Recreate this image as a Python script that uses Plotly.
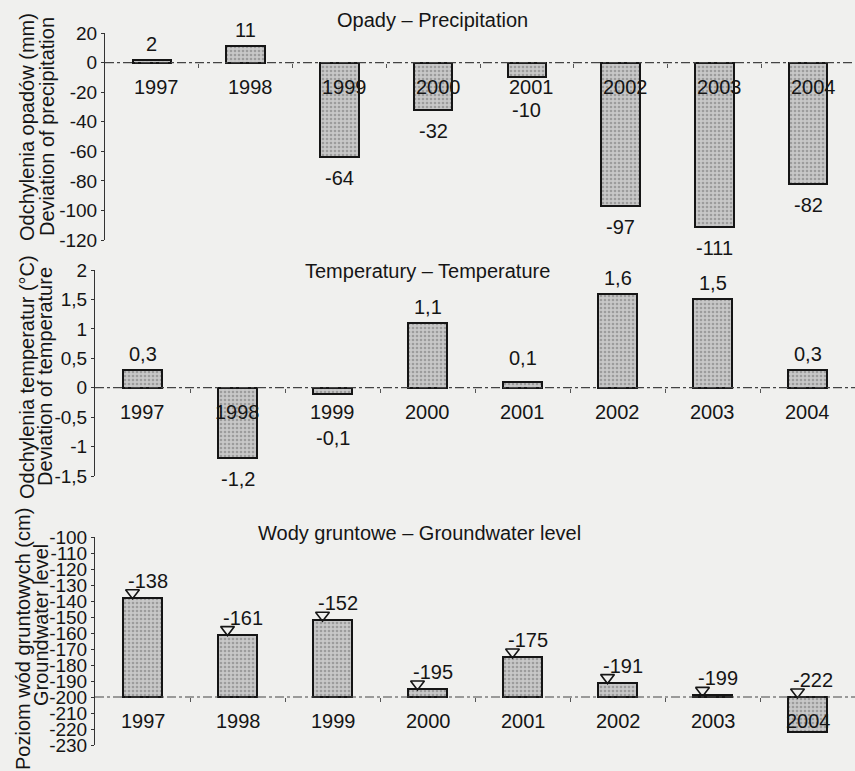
import plotly.graph_objects as go

W, H = 855, 771

years = ["1997", "1998", "1999", "2000", "2001", "2002", "2003", "2004"]

precip_dev = [2, 11, -64, -32, -10, -97, -111, -82]
precip_labels = ["2", "11", "-64", "-32", "-10", "-97", "-111", "-82"]
precip_ticks = [20, 0, -20, -40, -60, -80, -100, -120]
precip_ticktext = ["20", "0", "-20", "-40", "-60", "-80", "-100", "-120"]

temp_dev = [0.3, -1.2, -0.1, 1.1, 0.1, 1.6, 1.5, 0.3]
temp_labels = ["0,3", "-1,2", "-0,1", "1,1", "0,1", "1,6", "1,5", "0,3"]
temp_ticks = [2, 1.5, 1, 0.5, 0, -0.5, -1, -1.5]
temp_ticktext = ["2", "1,5", "1", "0,5", "0", "-0,5", "-1", "-1,5"]

gw_level = [-138, -161, -152, -195, -175, -191, -199, -222]
gw_labels = ["-138", "-161", "-152", "-195", "-175", "-191", "-199", "-222"]
gw_base = -200
gw_ticks = [-100, -110, -120, -130, -140, -150, -160, -170, -180, -190,
            -200, -210, -220, -230]
gw_ticktext = ["-100", "-110", "-120", "-130", "-140", "-150", "-160", "-170",
               "-180", "-190", "-200", "-210", "-220", "-230"]

FONT = "Liberation Sans, Arial, sans-serif"
INK = "#151515"
BG = "#f0f0ee"

panels = [
    dict(k="", values=precip_dev, labels=precip_labels, base=0,
         xdom=[105 / W, 1.0], ydom=[1 - 240 / H, 1 - 33 / H], yrange=[-120, 20],
         tickvals=precip_ticks, ticktext=precip_ticktext,
         title="Opady – Precipitation", title_xy=(432, 20),
         yt1="Odchylenia opadów (mm)", yt2="Deviation of precipitation",
         yt_pos=((27, 127), (47, 127)), year_dx=5, min_pos=0, min_neg=47,
         gw=False),
    dict(k="2", values=temp_dev, labels=temp_labels, base=0,
         xdom=[95 / W, 1.0], ydom=[1 - 476 / H, 1 - 270 / H], yrange=[-1.5, 2],
         tickvals=temp_ticks, ticktext=temp_ticktext,
         title="Temperatury – Temperature", title_xy=(427, 271),
         yt1="Odchylenia temperatur (°C)", yt2="Deviation of temperature",
         yt_pos=((27, 377), (45, 377)), year_dx=0, min_pos=30, min_neg=50,
         gw=False),
    dict(k="3", values=gw_level, labels=gw_labels, base=gw_base,
         xdom=[95 / W, 1.0], ydom=[1 - 745 / H, 1 - 537 / H], yrange=[-230, -100],
         tickvals=gw_ticks, ticktext=gw_ticktext,
         title="Wody gruntowe – Groundwater level", title_xy=(419, 533),
         yt1="Poziom wód gruntowych (cm)", yt2="Groundwater level",
         yt_pos=((23, 639), (41, 625)), year_dx=1, min_pos=0, min_neg=0,
         gw=True),
]

fig = go.Figure()
annotations = []
shapes = []
layout = {}

for p in panels:
    k = p["k"]
    xa, ya = "x" + k, "y" + k
    base = p["base"]
    idx = list(range(len(years)))
    d0, d1 = p["ydom"]
    r0, r1 = p["yrange"]
    ppu = (d1 - d0) * H / (r1 - r0)          # pixels per data unit
    ppc = (p["xdom"][1] - p["xdom"][0]) * W / len(years)  # pixels per category

    fig.add_trace(go.Bar(
        x=idx, y=[v - base for v in p["values"]], base=base, width=0.41,
        xaxis=xa, yaxis=ya, showlegend=False, hoverinfo="skip",
        marker=dict(color="#c2c2c2", line=dict(color=INK, width=2),
                    pattern=dict(shape=".", fgcolor="#707070", bgcolor="#c8c8c8",
                                 size=4, solidity=0.35)),
    ))

    # baseline (dash-dot)
    shapes.append(dict(type="line", xref=xa + " domain", yref=ya,
                       x0=0, x1=1, y0=base, y1=base,
                       line=dict(color="#444", width=1.2, dash="dashdot")))

    # year labels
    for i, yr in enumerate(years):
        annotations.append(dict(x=i, y=base, xref=xa, yref=ya, text=yr,
                                showarrow=False, yshift=-24, xshift=p["year_dx"],
                                font=dict(family=FONT, size=20, color=INK)))

    # value labels
    for i, (v, lab) in enumerate(zip(p["values"], p["labels"])):
        if p["gw"]:
            top = max(v, base)
            shift = (top - base) * ppu + 17
            xs = 5
        elif v >= base:
            shift = max((v - base) * ppu + 16, p["min_pos"])
            xs = 0
        else:
            shift = -max((base - v) * ppu + 21, p["min_neg"])
            xs = 0
        annotations.append(dict(x=i, y=base, xref=xa, yref=ya, text=lab,
                                showarrow=False, yshift=shift, xshift=xs,
                                font=dict(family=FONT, size=20, color=INK)))

    if p["gw"]:
        tops = [max(v, base) for v in p["values"]]
        fig.add_trace(go.Scatter(
            x=[i - 10 / ppc for i in idx], y=[t + 5 / ppu for t in tops],
            xaxis=xa, yaxis=ya, mode="markers", showlegend=False, hoverinfo="skip",
            marker=dict(symbol="triangle-down-open", size=12,
                        color=INK, line=dict(color=INK, width=1.6)),
        ))

    # titles
    tx, ty = p["title_xy"]
    annotations.append(dict(x=tx / W, y=1 - ty / H, xref="paper", yref="paper",
                            text=p["title"], showarrow=False, xanchor="center",
                            yanchor="middle",
                            font=dict(family=FONT, size=20, color=INK)))
    for txt, (ax, ay) in zip((p["yt1"], p["yt2"]), p["yt_pos"]):
        annotations.append(dict(x=ax / W, y=1 - ay / H, xref="paper", yref="paper",
                                text=txt, showarrow=False, textangle=-90,
                                xanchor="center", yanchor="middle",
                                font=dict(family=FONT, size=20, color=INK)))

    pos = d0 + (base - r0) / (r1 - r0) * (d1 - d0)
    layout["xaxis" + k] = dict(domain=p["xdom"], range=[-0.5, len(years) - 0.5],
                               anchor="free", position=pos, showgrid=False,
                               zeroline=False, showline=False, automargin=False,
                               tickvals=[i + 0.5 for i in idx[:-1]],
                               ticks="outside", ticklen=4, tickcolor="#555",
                               tickwidth=1, showticklabels=False, fixedrange=True)
    layout["yaxis" + k] = dict(domain=p["ydom"], range=p["yrange"], anchor=xa,
                               tickvals=p["tickvals"], ticktext=p["ticktext"],
                               ticks="outside", ticklen=3, tickcolor="#333",
                               showline=True, linecolor="#333", linewidth=1,
                               showgrid=False, zeroline=False, fixedrange=True,
                               automargin=False,
                               tickfont=dict(family=FONT, size=19, color=INK))

fig.update_layout(
    width=W, height=H, margin=dict(l=0, r=0, t=0, b=0, pad=0),
    autosize=False,
    paper_bgcolor=BG, plot_bgcolor=BG, bargap=0,
    annotations=annotations, shapes=shapes,
    font=dict(family=FONT, color=INK),
    **layout,
)

fig.write_html("out.html",
               config={"displayModeBar": False},
               post_script="document.body.style.margin='0';"
                           "document.body.style.overflow='hidden';")
